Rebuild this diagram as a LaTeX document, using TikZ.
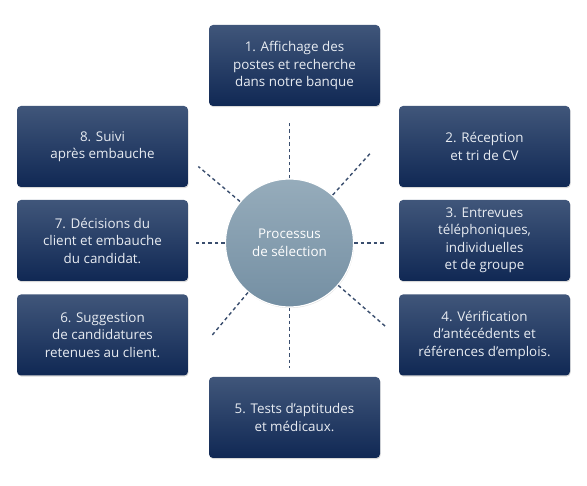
\documentclass[tikz,border=0pt]{standalone}
\usepackage{fontspec}
\setmainfont{Open Sans}
\usepackage{xcolor}
\usetikzlibrary{calc,shadows}
\definecolor{navytop}{RGB}{64,86,122}
\definecolor{navybot}{RGB}{16,40,84}
\definecolor{hubtop}{RGB}{150,172,187}
\definecolor{hubbot}{RGB}{116,143,163}
\definecolor{spokeblue}{RGB}{58,78,110}
\definecolor{boxtext}{RGB}{232,236,242}
\tikzset{
  stepbox/.style={rounded corners=4pt, minimum width=171pt, minimum height=81pt,
                  align=center, text=boxtext, top color=navytop, bottom color=navybot,
                  drop shadow={shadow xshift=0.6pt, shadow yshift=-1.2pt, opacity=0.3},
                  font=\fontsize{13.4}{17.5}\selectfont},
  hub/.style={circle, minimum size=128pt, align=center, text=white,
              top color=hubtop, bottom color=hubbot, draw=white, line width=1.2pt,
              drop shadow={shadow xshift=0.5pt, shadow yshift=-1pt, opacity=0.25},
              font=\fontsize{13.4}{17.5}\selectfont},
  spoke/.style={draw=spokeblue, line width=1.4pt, dash pattern=on 3.5pt off 3pt},
}
\begin{document}
\begin{tikzpicture}[x=1pt, y=-1pt]
  \useasboundingbox (0,0) rectangle (587,486);

  % centre
  \node[hub] (C) at (289.5,243) {Processus\\de sélection};

  % the eight steps
  \node[stepbox] (S1) at (294.5,65.5)  {1. Affichage des\\postes et recherche\\dans notre banque};
  \node[stepbox] (S2) at (484.5,146.5) {2. Réception\\et tri de CV};
  \node[stepbox] (S3) at (484.5,240.5) {3. Entrevues\\téléphoniques,\\individuelles\\et de groupe};
  \node[stepbox] (S4) at (484.5,335)   {4. Vérification\\d’antécédents et\\références d’emplois.};
  \node[stepbox] (S5) at (294.5,417.5) {5. Tests d’aptitudes\\et médicaux.};
  \node[stepbox] (S6) at (102.5,335)   {6. Suggestion\\de candidatures\\retenues au client.};
  \node[stepbox] (S7) at (102.5,240.5) {7. Décisions du\\client et embauche\\du candidat.};
  \node[stepbox] (S8) at (102.5,146.5) {8. Suivi\\après embauche};

  % dashed spokes
  \foreach \a/\r [count=\i] in {90/121, 48/123, 0/94, -41/127, -90/125, -130/122, 180/94, 140/119} {
    \coordinate (P\i) at ($(C.center)+(\a:\r pt)$);
    \draw[spoke] (C.\a) -- (P\i);
  }
\end{tikzpicture}
\end{document}
